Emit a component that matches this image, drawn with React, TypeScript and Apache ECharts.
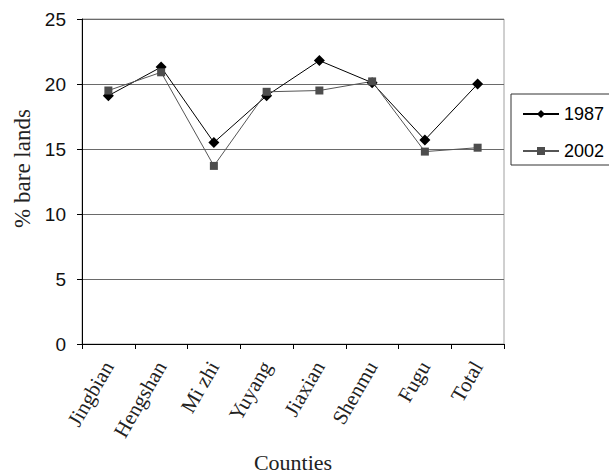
import React, { useEffect, useRef } from "react";
import * as echarts from "echarts";

const categories = ["Jingbian", "Hengshan", "Mi zhi", "Yuyang", "Jiaxian", "Shenmu", "Fugu", "Total"];
const values1987 = [19.1, 21.3, 15.5, 19.1, 21.8, 20.1, 15.7, 20.0];
const values2002 = [19.5, 20.9, 13.7, 19.4, 19.5, 20.2, 14.8, 15.1];
const seriesNames = ["1987", "2002"];

export default function App() {
  const ref = useRef<HTMLDivElement>(null);
  useEffect(() => {
    const chart = echarts.init(ref.current!, undefined, { renderer: "svg" });
    chart.setOption({
      animation: false,
      backgroundColor: "#fff",
      grid: {
        left: 82,
        right: 105,
        top: 19,
        bottom: 131,
        outerBoundsMode: "none",
        containLabel: false,
        show: true,
        borderColor: "#a0a0a0",
        borderWidth: 1,
      },
      legend: {
        orient: "vertical",
        left: 511,
        top: 94,
        data: seriesNames,
        padding: [10, 12, 4, 11],
        itemWidth: 36,
        itemHeight: 10,
        itemGap: 17,
        borderColor: "#333",
        borderWidth: 1,
        textStyle: { fontFamily: "Liberation Sans", fontSize: 18, color: "#000", lineHeight: 20 },
      },
      xAxis: {
        type: "category",
        data: categories,
        boundaryGap: true,
        name: "Counties",
        nameLocation: "middle",
        nameGap: 107,
        nameTextStyle: { fontFamily: "Liberation Serif", fontSize: 22, color: "#222", lineHeight: 22 },
        axisLine: { lineStyle: { color: "#000", width: 1 } },
        axisTick: { show: true, length: 5, alignWithLabel: false, lineStyle: { color: "#000" } },
        axisLabel: {
          rotate: 60,
          margin: 19,
          interval: 0,
          fontFamily: "Liberation Serif",
          fontSize: 21,
          color: "#222",
        },
      },
      yAxis: {
        type: "value",
        min: 0,
        max: 25,
        interval: 5,
        name: "% bare lands",
        nameLocation: "middle",
        nameGap: 40,
        nameTextStyle: { fontFamily: "Liberation Serif", fontSize: 23, color: "#222", padding: [0, 0, 0, 26] },
        axisLine: { show: true, lineStyle: { color: "#000", width: 1 } },
        axisTick: { show: true, length: 5, lineStyle: { color: "#000" } },
        axisLabel: { fontFamily: "Liberation Sans", fontSize: 19, color: "#111", margin: 16 },
        splitLine: { show: true, lineStyle: { color: "#6a6a6a", width: 1 } },
      },
      series: [
        {
          name: seriesNames[0],
          type: "line",
          data: values1987,
          symbol: "diamond",
          symbolSize: 11,
          itemStyle: { color: "#000" },
          lineStyle: { color: "#000", width: 1 },
        },
        {
          name: seriesNames[1],
          type: "line",
          data: values2002,
          symbol: "rect",
          symbolSize: 8,
          itemStyle: { color: "#4d4d4d" },
          lineStyle: { color: "#555", width: 1 },
        },
      ],
    });
    return () => chart.dispose();
  }, []);
  return <div ref={ref} style={{ width: 609, height: 475, position: "absolute", left: 0, top: 0 }} />;
}
